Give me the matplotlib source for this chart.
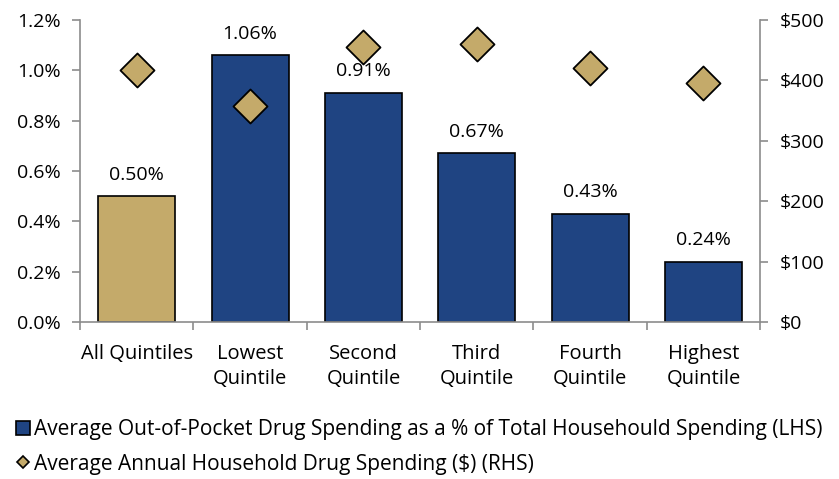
import matplotlib
matplotlib.use("Agg")
from matplotlib import pyplot as plt
from matplotlib.lines import Line2D
import numpy as np

categories = ["All Quintiles", "Lowest\nQuintile", "Second\nQuintile",
              "Third\nQuintile", "Fourth\nQuintile", "Highest\nQuintile"]
pct_share = [0.50, 1.06, 0.91, 0.67, 0.43, 0.24]
dollar_spend = [417, 358, 456, 461, 420, 395]
pct_labels = ["0.50%", "1.06%", "0.91%", "0.67%", "0.43%", "0.24%"]

navy = "#1F4482"
gold = "#C4AA6A"
grey = "#8C8C8C"

plt.rcParams["font.family"] = ["Open Sans", "DejaVu Sans"]

fig = plt.figure(figsize=(8.39, 4.79), dpi=100)
ax = fig.add_axes([0.0954, 0.328, 0.8106, 0.630])
ax2 = ax.twinx()

x = np.arange(len(categories))
colors = [gold] + [navy] * (len(categories) - 1)
bars = ax.bar(x, pct_share, width=0.68, color=colors, edgecolor="black", linewidth=1.2, zorder=2)
for xi, v, lab in zip(x, pct_share, pct_labels):
    ax.text(xi, v + 0.05, lab, ha="center", va="bottom", fontsize=14)

ax2.scatter(x, dollar_spend, marker="D", s=300, facecolor=gold, edgecolor="black",
            linewidth=1.3, zorder=3)

ax.set_xlim(-0.5, len(categories) - 0.5)
ax.set_ylim(0, 1.2)
ax.set_yticks(np.arange(0, 1.21, 0.2))
ax.set_yticklabels([f"{v:.1f}%" for v in np.arange(0, 1.21, 0.2)], fontsize=14)
ax2.set_ylim(0, 500)
ax2.set_yticks(range(0, 501, 100))
ax2.set_yticklabels([f"${v}" for v in range(0, 501, 100)], fontsize=14)

ax.set_xticks(x)
ax.set_xticklabels(categories, fontsize=14.5, linespacing=1.35)
ax.tick_params(axis="x", length=0, pad=16)
ax.set_xticks(np.arange(-0.5, len(categories), 1.0), minor=True)
ax.tick_params(axis="x", which="minor", length=6, color=grey, width=1.2)
ax.tick_params(axis="y", length=6, color=grey, width=1.2, pad=8)
ax2.tick_params(axis="y", length=6, color=grey, width=1.2, pad=8)

for a in (ax, ax2):
    a.spines["top"].set_visible(False)
    for s in ("left", "right", "bottom"):
        a.spines[s].set_color(grey)
        a.spines[s].set_linewidth(1.2)
ax.spines["right"].set_visible(False)
ax2.spines["left"].set_visible(False)
ax2.spines["bottom"].set_visible(False)

handles = [
    Line2D([], [], marker="s", linestyle="none", markersize=10, markerfacecolor=navy,
           markeredgecolor="black", markeredgewidth=1.2),
    Line2D([], [], marker="D", linestyle="none", markersize=6, markerfacecolor=gold,
           markeredgecolor="black", markeredgewidth=1.2),
]
labels = ["Average Out-of-Pocket Drug Spending as a % of Total Househould Spending (LHS)",
          "Average Annual Household Drug Spending ($) (RHS)"]
fig.legend(handles, labels, loc="upper left", bbox_to_anchor=(0.02, 0.125), frameon=False,
           fontsize=15, handlelength=0.6, handletextpad=0.25, labelspacing=0.65,
           borderaxespad=0, borderpad=0)

fig.savefig("out.png", dpi=100)
